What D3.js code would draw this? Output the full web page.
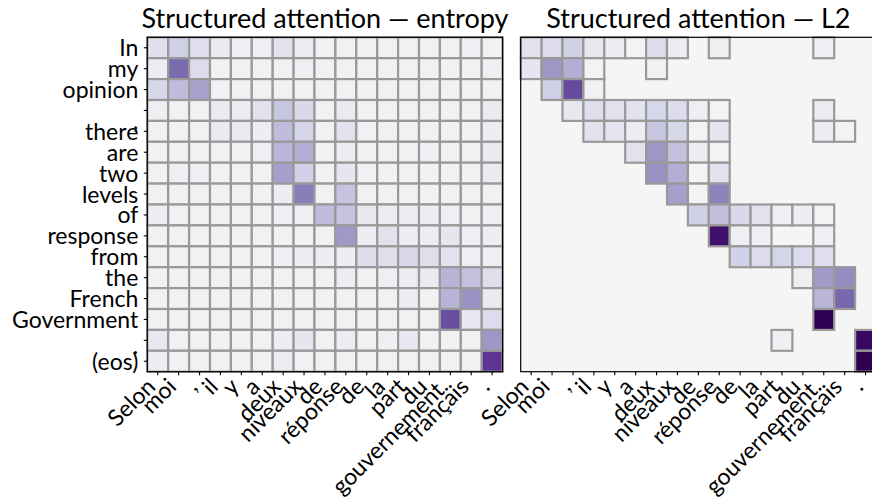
<!DOCTYPE html>
<html>
<head>
<meta charset="utf-8">
<script src="https://cdn.jsdelivr.net/npm/d3@7"></script>
<style>
  body { margin: 0; background: #fff; }
  svg { display: block; }
</style>
</head>
<body>
<svg id="chart" width="872" height="504"></svg>
<script>
// tokens
const sourceTokens = ["Selon", "moi", ",", "il", "y", "a", "deux", "niveaux", "de", "réponse",
  "de", "la", "part", "du", "gouvernement.", "français", "."];
const targetTokens = ["In", "my", "opinion", ",", "there", "are", "two", "levels", "of", "response",
  "from", "the", "French", "Government", ".", "(eos)"];

const titles = ["Structured attention — entropy", "Structured attention — L2"];

// attention weights, one row per target token
const entropyWeights = [
  [.11, .20, .12, .06, .03, .03, .10, .05, .02, .02, .02, .02, .02, .02, .02, .03, .02],
  [.05, .63, .13, .02, .02, .02, .02, .03, .02, .02, .02, .02, .02, .02, .02, .02, .03],
  [.16, .28, .39, .02, .02, .02, .02, .02, .02, .02, .02, .02, .02, .02, .02, .02, .02],
  [.03, .02, .02, .06, .05, .10, .24, .15, .02, .06, .02, .02, .02, .02, .02, .02, .06],
  [.02, .02, .02, .06, .06, .04, .28, .17, .02, .10, .02, .02, .02, .02, .02, .02, .04],
  [.02, .02, .02, .02, .02, .03, .31, .34, .02, .05, .02, .02, .02, .03, .02, .02, .06],
  [.02, .03, .03, .02, .02, .02, .40, .19, .02, .08, .02, .02, .02, .02, .02, .02, .06],
  [.02, .02, .02, .02, .02, .02, .05, .55, .02, .25, .02, .02, .02, .02, .02, .02, .02],
  [.04, .02, .02, .02, .02, .02, .03, .03, .28, .25, .07, .05, .05, .04, .03, .02, .03],
  [.02, .02, .02, .02, .02, .02, .02, .02, .02, .43, .04, .10, .04, .04, .08, .03, .04],
  [.02, .02, .02, .02, .02, .02, .03, .04, .04, .04, .13, .12, .15, .12, .10, .03, .03],
  [.02, .02, .02, .02, .02, .02, .02, .02, .02, .04, .02, .03, .05, .06, .32, .26, .12],
  [.02, .02, .02, .02, .02, .02, .02, .02, .02, .02, .02, .02, .04, .02, .32, .46, .06],
  [.02, .02, .02, .02, .02, .02, .02, .02, .02, .02, .02, .02, .02, .02, .74, .07, .13],
  [.07, .02, .02, .02, .02, .02, .05, .08, .02, .05, .02, .03, .07, .02, .02, .02, .44],
  [.04, .02, .02, .02, .02, .02, .05, .02, .02, .02, .02, .02, .02, .02, .02, .02, .83]
];

// sparse: 0 means exactly zero (cell not drawn)
const l2Weights = [
  [.10, .13, .19, .07, .04, .01, .13, .05, 0, .03, 0, 0, 0, 0, .03, 0, 0],
  [.08, .44, .34, .01, 0, 0, .02, 0, 0, 0, 0, 0, 0, 0, 0, 0, 0],
  [0, .20, .76, .02, 0, 0, 0, 0, 0, 0, 0, 0, 0, 0, 0, 0, 0],
  [0, 0, .07, .12, .10, .10, .16, .13, .03, .01, 0, 0, 0, 0, .05, 0, 0],
  [0, 0, 0, .10, .09, .05, .24, .16, .01, .08, 0, 0, 0, 0, .05, .01, 0],
  [0, 0, 0, 0, 0, .10, .44, .26, .04, .01, 0, 0, 0, 0, 0, 0, 0],
  [0, 0, 0, 0, 0, 0, .46, .34, .01, .10, 0, 0, 0, 0, 0, 0, 0],
  [0, 0, 0, 0, 0, 0, 0, .40, .01, .53, 0, 0, 0, 0, 0, 0, 0],
  [0, 0, 0, 0, 0, 0, 0, 0, .20, .27, .15, .10, .03, .04, .01, 0, 0],
  [0, 0, 0, 0, 0, 0, 0, 0, 0, .95, .03, .03, 0, 0, .03, 0, 0],
  [0, 0, 0, 0, 0, 0, 0, 0, 0, 0, .19, .13, .17, .13, .12, 0, 0],
  [0, 0, 0, 0, 0, 0, 0, 0, 0, 0, 0, 0, 0, .03, .42, .49, 0],
  [0, 0, 0, 0, 0, 0, 0, 0, 0, 0, 0, 0, 0, 0, .31, .64, 0],
  [0, 0, 0, 0, 0, 0, 0, 0, 0, 0, 0, 0, 0, 0, 1.0, 0, 0],
  [0, 0, 0, 0, 0, 0, 0, 0, 0, 0, 0, 0, .03, 0, 0, 0, .97],
  [0, 0, 0, 0, 0, 0, 0, 0, 0, 0, 0, 0, 0, 0, 0, 0, 1.0]
];

// purple colour ramp
const rampStops = [0, .1, .2, .3, .4, .5, .6, .7, .8, .9, 1];
const rampColors = ["#f5f5f5", "#e2e2ef", "#cfcfe6", "#bcb8da", "#a69fcb", "#938abf",
  "#8072b2", "#6f58a6", "#613f99", "#4f1f85", "#2e0052"];

const font = "Lato, 'Open Sans', sans-serif";
const cell = 20.9;
const panelTop = 37.3;
const panelW = cell * sourceTokens.length;
const panelH = cell * targetTokens.length;
const panelLeft = [147.3, 520.7];
// punctuation-only y labels sit lower (as in the TeX rendering)
const punctDrop = { ",": 10, ".": 5 };

const svg = d3.select("#chart");
svg.append("rect").attr("width", 872).attr("height", 504).attr("fill", "#fff");

const x = d3.scaleBand().domain(d3.range(sourceTokens.length)).range([0, panelW]);
const y = d3.scaleBand().domain(d3.range(targetTokens.length)).range([0, panelH]);
const color = d3.scaleLinear().domain(rampStops).range(rampColors).clamp(true);

[entropyWeights, l2Weights].forEach(function (weights, p) {
  const sparse = p === 1;
  const g = svg.append("g").attr("transform", "translate(" + panelLeft[p] + "," + panelTop + ")");

  g.append("rect")
    .attr("width", panelW).attr("height", panelH)
    .attr("fill", "#f5f5f5");

  const cells = [];
  weights.forEach(function (row, i) {
    row.forEach(function (v, j) {
      if (!sparse || v > 0) cells.push({ i: i, j: j, v: v });
    });
  });

  g.selectAll("rect.cell")
    .data(cells)
    .enter().append("rect")
      .attr("class", "cell")
      .attr("x", function (d) { return x(d.j); })
      .attr("y", function (d) { return y(d.i); })
      .attr("width", x.bandwidth())
      .attr("height", y.bandwidth())
      .attr("fill", function (d) { return color(d.v); })
      .attr("stroke", "#999")
      .attr("stroke-width", 2.2);

  g.append("rect")
    .attr("width", panelW).attr("height", panelH)
    .attr("fill", "none").attr("stroke", "#000").attr("stroke-width", 1.2);

  // x axis
  const xAxis = d3.axisBottom(x).tickSize(3.5).tickSizeOuter(0)
    .tickFormat(function (j) { return sourceTokens[j]; });
  const xg = g.append("g").attr("transform", "translate(0," + panelH + ")").call(xAxis);
  xg.attr("font-family", font).attr("font-size", 23);
  xg.select(".domain").remove();
  xg.selectAll(".tick line").attr("stroke", "#000").attr("stroke-width", 1.1);
  xg.selectAll(".tick text")
    .attr("fill", "#000")
    .attr("x", 0).attr("y", 0).attr("dy", null)
    .attr("text-anchor", "end")
    .attr("transform", "translate(-1,16.5) rotate(-45)");

  // y axis only on the left panel
  if (p === 0) {
    const yAxis = d3.axisLeft(y).tickSize(3.5).tickSizeOuter(0)
      .tickFormat(function (i) { return targetTokens[i]; });
    const yg = g.append("g").call(yAxis);
    yg.attr("font-family", font).attr("font-size", 23);
    yg.select(".domain").remove();
    yg.selectAll(".tick line").attr("stroke", "#000").attr("stroke-width", 1.1);
    yg.selectAll(".tick text")
      .attr("fill", "#000")
      .attr("x", -9).attr("dy", null)
      .attr("y", function (i) { return 8.5 + (punctDrop[targetTokens[i]] || 0); });
  }

  g.append("text")
    .attr("x", panelW / 2).attr("y", -9)
    .attr("text-anchor", "middle")
    .attr("font-family", font).attr("font-size", 27)
    .attr("fill", "#000")
    .text(titles[p]);
});
</script>
</body>
</html>
